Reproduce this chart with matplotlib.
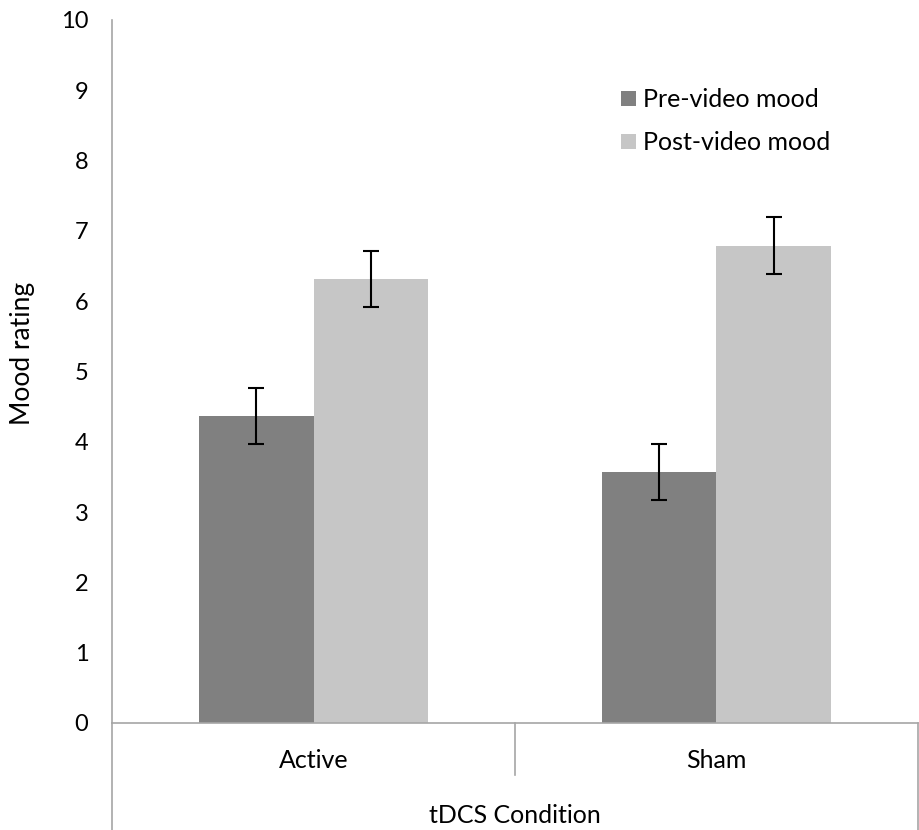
import matplotlib.pyplot as plt
import numpy as np
from matplotlib.lines import Line2D
from matplotlib.transforms import blended_transform_factory

conditions = ["Active", "Sham"]
pre_mood = [4.37, 3.57]
post_mood = [6.32, 6.79]
pre_err = [0.4, 0.4]
post_err = [0.4, 0.4]

plt.rcParams['font.family'] = ['Lato', 'DejaVu Sans']

fig = plt.figure(figsize=(9.19, 8.3), dpi=100)
ax = fig.add_axes([0.1219, 0.129, 0.877, 0.847])

x = np.arange(len(conditions))
w = 0.285
ekw = dict(ecolor="black", elinewidth=1.5, capsize=6, capthick=1.5)
ax.bar(x - w / 2, pre_mood, w, yerr=pre_err, color="#808080", label="Pre-video mood", error_kw=ekw)
ax.bar(x + w / 2, post_mood, w, yerr=post_err, color="#c6c6c6", label="Post-video mood", error_kw=ekw)

ax.set_xlim(-0.5, 1.5)
ax.set_ylim(0, 10)
ax.set_yticks(range(0, 11))
ax.tick_params(axis="y", length=0, pad=17, labelsize=17)
ax.set_xticks([])
for s in ["top", "right"]:
    ax.spines[s].set_visible(False)
for s in ["left", "bottom"]:
    ax.spines[s].set_color("#a6a6a6")
    ax.spines[s].set_linewidth(1.2)
ax.set_ylabel("Mood rating", fontsize=19)
ax.yaxis.set_label_coords(-0.096, 0.526)

# category box lines below the axis
trans = blended_transform_factory(ax.transData, ax.transAxes)
lc = "#a6a6a6"
ax.add_line(Line2D([-0.5, -0.5], [0, -0.16], transform=trans, color=lc, lw=1.2, clip_on=False))
ax.add_line(Line2D([0.5, 0.5], [0, -0.074], transform=trans, color=lc, lw=1.2, clip_on=False))
ax.add_line(Line2D([1.5, 1.5], [0, -0.16], transform=trans, color=lc, lw=1.2, clip_on=False))
for xi, c in zip(x, conditions):
    ax.text(xi, -0.053, c, transform=trans, ha="center", va="center", fontsize=18)
ax.text(0.5, -0.131, "tDCS Condition", transform=trans, ha="center", va="center", fontsize=18)

ax.legend(loc="upper left", bbox_to_anchor=(0.619, 0.917), frameon=False, fontsize=18,
          borderaxespad=0, handlelength=0.6, handleheight=0.6, handletextpad=0.3,
          labelspacing=0.8)

fig.savefig("out.png", dpi=100)
